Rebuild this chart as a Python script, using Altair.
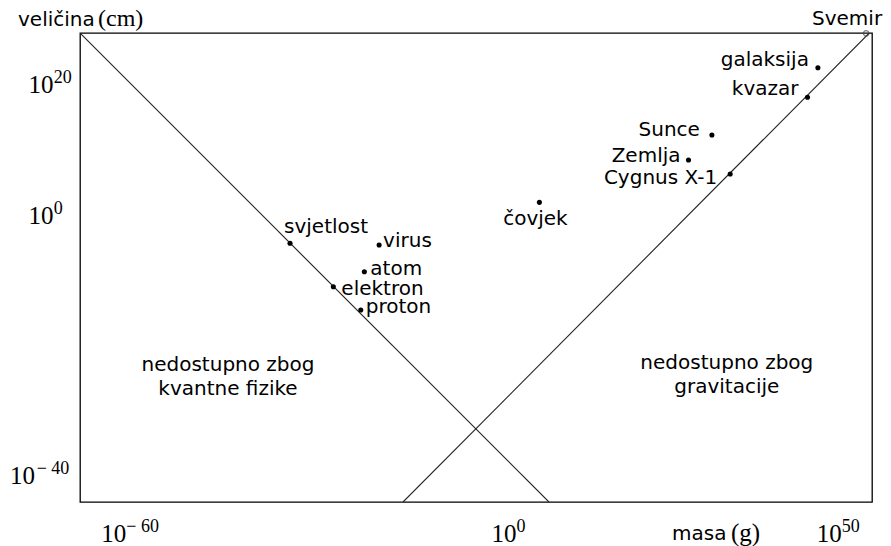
import altair as alt
import pandas as pd

# ---------------- data (log10 exponents) ----------------
names = ["svjetlost", "virus", "atom", "elektron", "proton", "čovjek",
         "Zemlja", "Sunce", "Cygnus X-1", "kvazar", "galaksija"]
mass_exp = [-33.6, -19.9, -22.17, -26.94, -22.72, 4.75, 27.68, 31.28, 34.09, 45.98, 47.58]
size_exp = [-4.12, -4.38, -8.49, -10.8, -14.38, 2.18, 8.69, 12.54, 6.54, 18.34, 22.89]

universe_name = ["Svemir"]
universe_mass_exp = [55.0]
universe_size_exp = [28.18]

quantum_mass_exp = [-65.9, 6.22]
quantum_size_exp = [28.23, -43.92]
gravity_mass_exp = [-16.22, 55.48]
gravity_size_exp = [-43.92, 28.23]

region_text = ["nedostupno zbog\nkvantne fizike", "nedostupno zbog\ngravitacije"]
region_mass_exp = [-43.14, 33.57]
region_size_exp = [-22.85, -22.46]

x_tick_exp = [-60, -50, -40, -30, -20, -10, 0, 10, 20, 30, 40, 50]
x_label_exp = [-60, 0, 50]
y_tick_exp = [-40, -30, -20, -10, 0, 10, 20]
y_label_exp = [-40, 0, 20]

x_domain_exp = [-65.9, 55.9]
y_domain_exp = [-43.92, 28.23]

W, H = 792, 469


def exp_text(e):
    return ("− " + str(abs(e))) if e < 0 else str(e)


pts = pd.DataFrame({"name": names,
                    "m": [10.0 ** v for v in mass_exp],
                    "r": [10.0 ** v for v in size_exp]})
uni = pd.DataFrame({"name": universe_name,
                    "m": [10.0 ** v for v in universe_mass_exp],
                    "r": [10.0 ** v for v in universe_size_exp]})
lines = pd.DataFrame({
    "line": ["q", "q", "g", "g"],
    "m": [10.0 ** v for v in quantum_mass_exp + gravity_mass_exp],
    "r": [10.0 ** v for v in quantum_size_exp + gravity_size_exp],
    "o": [0, 1, 0, 1],
})
regions = pd.DataFrame({"t": region_text,
                        "m": [10.0 ** v for v in region_mass_exp],
                        "r": [10.0 ** v for v in region_size_exp]})
xlab = pd.DataFrame({"m": [10.0 ** e for e in x_label_exp],
                     "ten": ["10"] * len(x_label_exp),
                     "e": [exp_text(e) for e in x_label_exp]})
ylab = pd.DataFrame({"k": y_label_exp,
                     "r": [10.0 ** e for e in y_label_exp],
                     "ten": ["10"] * len(y_label_exp),
                     "e": [exp_text(e) for e in y_label_exp]})

xs = alt.Scale(type="log", domain=[10.0 ** v for v in x_domain_exp], nice=False)
ys = alt.Scale(type="log", domain=[10.0 ** v for v in y_domain_exp], nice=False)

X = alt.X("m:Q", scale=xs, title=None,
          axis=alt.Axis(values=[10.0 ** e for e in x_tick_exp], labels=False))
Y = alt.Y("r:Q", scale=ys, title=None,
          axis=alt.Axis(values=[10.0 ** e for e in y_tick_exp], labels=False))
Xn = alt.X("m:Q", scale=xs, axis=None)
Yn = alt.Y("r:Q", scale=ys, axis=None)

SERIF = "Liberation Serif"
FONT = "DejaVu Sans"
FS = 20

line_layer = alt.Chart(lines).mark_line(color="#222222", strokeWidth=1.1, clip=True).encode(
    x=X, y=Y, detail="line:N", order="o:Q")

dots = alt.Chart(pts).mark_circle(color="black", size=26, opacity=1).encode(x=Xn, y=Yn)

uni_dot = alt.Chart(uni).mark_point(shape="circle", filled=False, color="#444444",
                                    size=30, strokeWidth=1.2).encode(x=Xn, y=Yn)

label_style = {
    "svjetlost": ("left", -6, -10),
    "virus": ("left", 4, 2),
    "atom": ("left", 6, 3),
    "elektron": ("left", 8, 8),
    "proton": ("left", 5, 3),
    "čovjek": ("center", -4, 23),
    "Sunce": ("right", -12, 1),
    "Zemlja": ("right", -8, 2),
    "Cygnus X-1": ("right", -13, 10),
    "kvazar": ("right", -9, -2),
    "galaksija": ("right", -9, -2),
}

text_layers = []
for nm, (al, dx, dy) in label_style.items():
    text_layers.append(
        alt.Chart(pts).transform_filter(alt.datum.name == nm).mark_text(
            align=al, dx=dx, dy=dy, baseline="alphabetic", font=FONT,
            fontSize=FS, color="black").encode(x=Xn, y=Yn, text="name:N"))

uni_text = alt.Chart(uni).mark_text(align="right", dx=16, dy=-8, baseline="alphabetic",
                                    font=FONT, fontSize=FS, color="black").encode(
    x=Xn, y=Yn, text="name:N")

region_layer = alt.Chart(regions).mark_text(
    align="center", baseline="middle", font=FONT, fontSize=FS, lineHeight=24,
    lineBreak="\n", color="black").encode(x=Xn, y=Yn, text="t:N")

# tick labels: "10" plus a raised, smaller exponent
x_ten = alt.Chart(xlab).mark_text(align="left", dx=-17, baseline="alphabetic",
                                  font=SERIF, fontSize=25, color="black").encode(
    x=Xn, y=alt.value(H + 39.5), text="ten:N")
x_exp = alt.Chart(xlab).mark_text(align="left", dx=8, baseline="alphabetic",
                                  font=SERIF, fontSize=18, color="black").encode(
    x=Xn, y=alt.value(H + 29.5), text="e:N")

y_label_x = {20: (-26.5, -26.3), 0: (-26.5, -26.3), -40: (-45, -43.3)}
y_layers = []
for k, (xt, xe) in y_label_x.items():
    sub = alt.Chart(ylab).transform_filter(alt.datum.k == k)
    y_layers.append(sub.mark_text(align="right", dy=7, baseline="alphabetic",
                                  font=SERIF, fontSize=25, color="black").encode(
        x=alt.value(xt), y=Yn, text="ten:N"))
    y_layers.append(sub.mark_text(align="left", dy=-3, baseline="alphabetic",
                                  font=SERIF, fontSize=18, color="black").encode(
        x=alt.value(xe), y=Yn, text="e:N"))

# axis titles (mixed fonts)
title_df = pd.DataFrame({"a": [0]})
t_vel = alt.Chart(title_df).mark_text(text="veličina", align="left", baseline="alphabetic",
                                      font=FONT, fontSize=FS, color="black").encode(
    x=alt.value(-62), y=alt.value(-7.5))
t_cm = alt.Chart(title_df).mark_text(text="(cm)", align="left", baseline="alphabetic",
                                     font=SERIF, fontSize=24, color="black").encode(
    x=alt.value(18), y=alt.value(-7))
t_masa = alt.Chart(title_df).mark_text(text="masa", align="left", baseline="alphabetic",
                                       font=FONT, fontSize=FS, color="black").encode(
    x=alt.value(592), y=alt.value(507))
t_g = alt.Chart(title_df).mark_text(text="(g)", align="left", baseline="alphabetic",
                                    font=SERIF, fontSize=25, color="black").encode(
    x=alt.value(651), y=alt.value(507.5))

chart = alt.layer(line_layer, dots, uni_dot, *text_layers, uni_text, region_layer,
                  x_ten, x_exp, *y_layers,
                  t_vel, t_cm, t_masa, t_g).properties(
    width=W, height=H,
    autosize=alt.AutoSizeParams(type="none"),
    padding={"left": 72, "top": 25, "right": 11, "bottom": 44},
).configure_view(stroke="black", strokeWidth=1.3).configure_axis(
    grid=False, domainColor="black", domainWidth=1.3, tickColor="black", tickWidth=1.2,
    tickSize=4,
)

chart.save("out.html", embed_options={"renderer": "svg", "actions": False})
